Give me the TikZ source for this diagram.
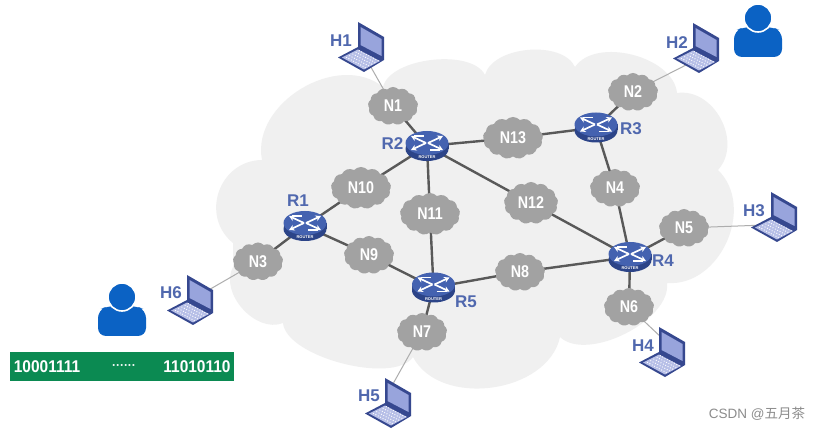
\documentclass[tikz,border=0pt]{standalone}
\usepackage{fontspec}
\setmainfont{Liberation Sans}
\newfontfamily\narrowbold[FakeStretch=0.84]{Liberation Sans Bold}
\newfontfamily\barbold[FakeStretch=0.91]{Liberation Sans Bold}
\newfontfamily\cjkfont{Noto Sans CJK SC}
\usetikzlibrary{shapes.symbols,arrows.meta}
\pgfdeclarelayer{bg}\pgfdeclarelayer{links}
\pgfsetlayers{bg,links,main}
\definecolor{cloudbg}{HTML}{F0F0F0}
\definecolor{netgray}{HTML}{A2A2A2}
\definecolor{labelblue}{HTML}{5068AE}
\definecolor{routerblue}{HTML}{4462B0}
\definecolor{routerdark}{HTML}{2C4488}
\definecolor{lapdark}{HTML}{36488F}
\definecolor{lapscreen}{HTML}{98A4DC}
\definecolor{userblue}{HTML}{0B62C4}
\definecolor{bargreen}{HTML}{0B8A52}
\tikzset{
  x=1pt,y=-1pt,
  netcloud/.style={cloud,cloud puffs=13,cloud puff arc=95,aspect=1.3,fill=netgray,draw=none,text=white,font=\narrowbold\fontsize{17}{17}\selectfont,inner sep=0pt,minimum width=50pt,minimum height=38pt},
  widecloud/.style={netcloud,minimum width=60pt,minimum height=42pt},
  devlabel/.style={text=labelblue,font=\bfseries\fontsize{17}{17}\selectfont,inner sep=0pt},
  hub/.style={circle,minimum size=26pt,inner sep=0pt},
  bartext/.style={text=white,font=\barbold\fontsize{17}{17}\selectfont,inner sep=0pt},
  strong/.style={draw=black!65,line width=2.4pt},
  thin link/.style={draw=black!32,line width=1pt},
  lobe/.style={bend left=70,looseness=#1},
  router arrow/.style={white,line width=1.7pt,-{Stealth[length=5.5pt,width=6pt]}},
  pics/laptop/.style={code={
    \fill[lapdark] (-4,-25) -- (22,-10) -- (22,13) -- (2,25) -- (-24,10.5) -- (-4,0) -- cycle;
    \fill[lapscreen] (-1.5,-20) -- (19.5,-8) -- (19.5,9) -- (-1.5,-2) -- cycle;
    \fill[lapscreen!70!white] (-4,2.5) -- (18,14) -- (2,22.5) -- (-20,10.5) -- cycle;
    \foreach \i in {0,...,4}\foreach \j in {0,...,8}
      \fill[white] ({-15.5+\i*3.2+\j*2.35},{10.5-\i*1.7+\j*1.25}) circle (0.65);
  }},
  pics/routerbody/.style={code={
    \fill[routerdark] (0,3) ellipse[x radius=21.5,y radius=12];
    \fill[routerdark] (-21.5,-3) rectangle (21.5,3);
    \fill[routerblue] (0,-3) ellipse[x radius=21.5,y radius=12];
    \draw[router arrow] (-1,-3) -- (-16,-10);
    \draw[router arrow] (1,-3) -- (16,-10);
    \draw[router arrow] (-1,-3) -- (-16,4);
    \draw[router arrow] (1,-3) -- (16,4);
    \draw[white,line width=1.5pt] (-13,-10) -- (-3,-10) (3,4) -- (13,4);
    \node[text=white,font=\bfseries\fontsize{4}{4}\selectfont,inner sep=0pt] at (0,11.5) {ROUTER};
  }},
  pics/person/.style={code={
    \fill[userblue,rounded corners=8pt] (-24,25) -- (-24,-1) -- (-14,-5) -- (14,-5) -- (24,-1) -- (24,25) -- cycle;
    \fill[userblue,draw=white,line width=1.6pt] (0,-14) circle (14);
  }},
}
\begin{document}
\begin{tikzpicture}
\useasboundingbox (0,0) rectangle (822,430);
\begin{pgfonlayer}{bg}
  \fill[white] (0,0) rectangle (822,430);
  \fill[cloudbg] (233,243) to[lobe=1.25] (262,160) to[lobe=1.05] (383,87) to[lobe=.75] (485,75)
    to[lobe=.85] (575,67) to[lobe=.9] (677,93) to[lobe=1.1] (718,170) to[lobe=1.1] (667,283)
    to[lobe=.8] (560,337) to[lobe=1.0] (413,357) to[lobe=.65] (283,323) to[lobe=1.0] (233,267) -- cycle;
\end{pgfonlayer}
\node[netcloud] (N1) at (393,106) {N1};
\node[netcloud] (N2) at (633,92) {N2};
\node[netcloud] (N3) at (258,261.5) {N3};
\node[netcloud] (N4) at (615,188) {N4};
\node[netcloud] (N5) at (684,228) {N5};
\node[netcloud] (N6) at (629,307) {N6};
\node[netcloud] (N7) at (422,332) {N7};
\node[netcloud] (N8) at (520,272) {N8};
\node[netcloud] (N9) at (369,255) {N9};
\node[widecloud] (N10) at (361,188) {N10};
\node[widecloud] (N11) at (430,214) {N11};
\node[widecloud,minimum width=54pt] (N12) at (531,203) {N12};
\node[widecloud] (N13) at (513,138) {N13};
\node[hub] (R1) at (305,226) {};
\node[hub] (R2) at (427,146) {};
\node[hub] (R3) at (596,127.5) {};
\node[hub] (R4) at (630,257) {};
\node[hub] (R5) at (433.5,287.5) {};
\foreach \r in {R1,R2,R3,R4,R5} \pic at (\r) {routerbody};
\pic at (362,47) {laptop};
\pic at (697,48) {laptop};
\pic at (775,217) {laptop};
\pic at (663,352) {laptop};
\pic at (389,403) {laptop};
\pic at (191,300) {laptop};
\coordinate (H1) at (368,62);
\coordinate (H2) at (690,63);
\coordinate (H3) at (765,225);
\coordinate (H4) at (663,339);
\coordinate (H5) at (389,391);
\coordinate (H6) at (200,295);
\node[devlabel] (lH1) at (341,41) {H1};
\node[devlabel] (lH2) at (677,43) {H2};
\node[devlabel] (lH3) at (754,211) {H3};
\node[devlabel] (lH4) at (643,346) {H4};
\node[devlabel] (lH5) at (369,396) {H5};
\node[devlabel] (lH6) at (171,293) {H6};
\node[devlabel] (lR1) at (298,201) {R1};
\node[devlabel] (lR2) at (392.5,144) {R2};
\node[devlabel] (lR3) at (631,129) {R3};
\node[devlabel] (lR4) at (663,261) {R4};
\node[devlabel] (lR5) at (466,302) {R5};
\begin{pgfonlayer}{links}
  \foreach \a/\b in {N1/R2,R2/N13,N13/R3,R3/N2,R3/N4,N4/R4,R4/N5,R4/N6,R2/N12,N12/R4,R2/N11,N11/R5,R2/N10,N10/R1,R1/N9,N9/R5,R1/N3,R5/N8,N8/R4,R5/N7}
    \draw[strong] (\a.center) -- (\b.center);
  \foreach \a/\b in {N1/H1,N2/H2,N5/H3,N6/H4,N7/H5,N3/H6}
    \draw[thin link] (\a.center) -- (\b);
\end{pgfonlayer}
\pic at (758,32) {person};
\pic at (122,311) {person};
\node[fill=bargreen,minimum width=224pt,minimum height=29pt,inner sep=0pt] (bar) at (122,366.5) {};
\node[bartext] (b1) at (47,367) {10001111};
\node[text=white,font=\bfseries\fontsize{12}{12}\selectfont,inner sep=0pt] (b2) at (124,367) {······};
\node[bartext] (b3) at (197,367) {11010110};
\node[text=black!45,font=\fontsize{13.5}{13.5}\selectfont,inner sep=0pt] (wm) at (757,414) {CSDN @{\cjkfont 五月茶}};
\end{tikzpicture}
\end{document}
